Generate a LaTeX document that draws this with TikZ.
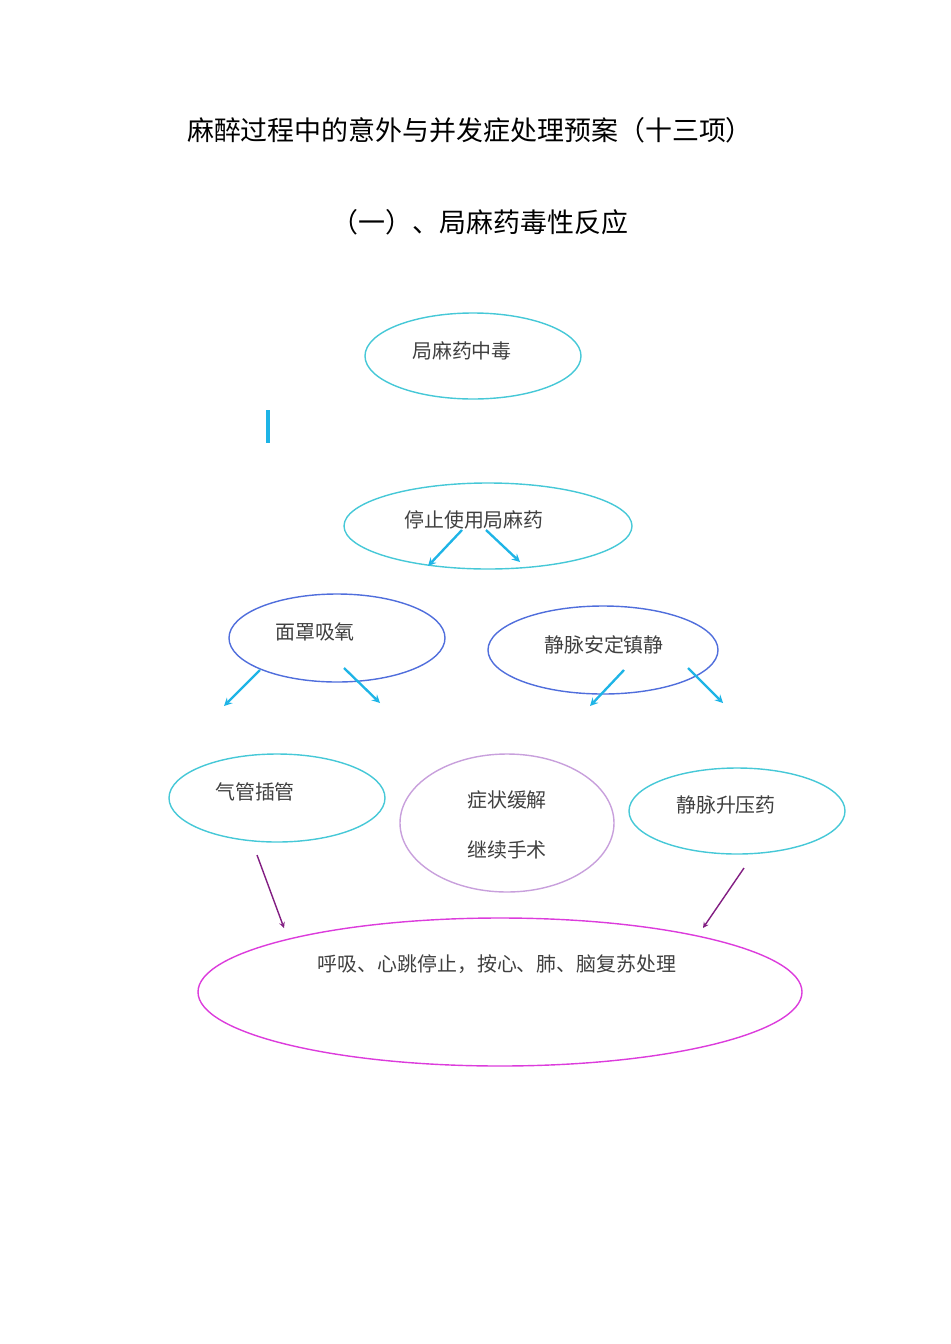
\documentclass[tikz,border=0pt]{standalone}
\usepackage{fontspec}
\setmainfont{Noto Sans CJK SC}
\usetikzlibrary{shapes.geometric}
\definecolor{lcyan}{RGB}{70,200,215}
\definecolor{lblue}{RGB}{80,110,220}
\definecolor{lpurple}{RGB}{200,160,220}
\definecolor{lmag}{RGB}{220,60,220}
\definecolor{acyan}{RGB}{30,180,230}
\definecolor{apurple}{RGB}{130,30,130}
\tikzset{
  oval/.style={ellipse, draw=#1, line width=1.2pt, inner sep=0pt},
  lbl/.style={font=\fontsize{17}{20}\selectfont, text=black!75},
  cyanarrow/.style={->, >=stealth, draw=acyan, line width=2pt},
  purparrow/.style={->, >=stealth, draw=apurple, line width=1.2pt},
}
\begin{document}
\begin{tikzpicture}[x=0.03cm, y=-0.03cm]
                \useasboundingbox (0,0) rectangle (950,1344);

                \node[font=\fontsize{23}{26}\selectfont] (title) at (470,130) {麻醉过程中的意外与并发症处理预案（十三项）};
                \node[font=\fontsize{23}{26}\selectfont] (sub) at (480,222) {（一）、局麻药毒性反应};

                \node[oval=lcyan, minimum width=216*0.03cm, minimum height=86*0.03cm] (poison) at (473,356) {};
                \node[lbl] at (462,351) {局麻药中毒};
                \draw[acyan, line width=3pt] (268,410) -- (268,443);

                \node[oval=lcyan, minimum width=288*0.03cm, minimum height=86*0.03cm] (stop) at (488,526) {};
                \node[lbl] at (474,520) {停止使用局麻药};

                \node[oval=lblue, minimum width=216*0.03cm, minimum height=88*0.03cm] (mask) at (337,638) {};
                \node[lbl] at (315,632) {面罩吸氧};
                \node[oval=lblue, minimum width=230*0.03cm, minimum height=88*0.03cm] (sedate) at (603,650) {};
                \node[lbl] at (604,645) {静脉安定镇静};

                \node[oval=lcyan, minimum width=216*0.03cm, minimum height=88*0.03cm] (intub) at (277,798) {};
                \node[lbl] at (255,792) {气管插管};
                \node[oval=lpurple, minimum width=214*0.03cm, minimum height=138*0.03cm] (relief) at (507,823) {};
                \node[lbl] at (507,800) {症状缓解};
                \node[lbl] at (507,850) {继续手术};
                \node[oval=lcyan, minimum width=216*0.03cm, minimum height=86*0.03cm] (press) at (737,811) {};
                \node[lbl] at (726,805) {静脉升压药};

                \node[oval=lmag, minimum width=604*0.03cm, minimum height=148*0.03cm] (cpr) at (500,992) {};
                \node[lbl] at (497,964) {呼吸、心跳停止，按心、肺、脑复苏处理};

                \coordinate (a1) at (462,530); \coordinate (b1) at (428,566);
                \coordinate (a2) at (486,530); \coordinate (b2) at (520,562);
                \coordinate (a3) at (260,670); \coordinate (b3) at (224,706);
                \coordinate (a4) at (344,668); \coordinate (b4) at (380,703);
                \coordinate (a5) at (624,670); \coordinate (b5) at (590,706);
                \coordinate (a6) at (688,668); \coordinate (b6) at (723,703);
                \foreach \i in {1,...,6} \draw[cyanarrow] (a\i) -- (b\i);

                \coordinate (c1) at (257,855); \coordinate (c2) at (744,868);
                \draw[purparrow] (c1) -- (284,928);
                \draw[purparrow] (c2) -- (703,928);
\end{tikzpicture}
\end{document}
